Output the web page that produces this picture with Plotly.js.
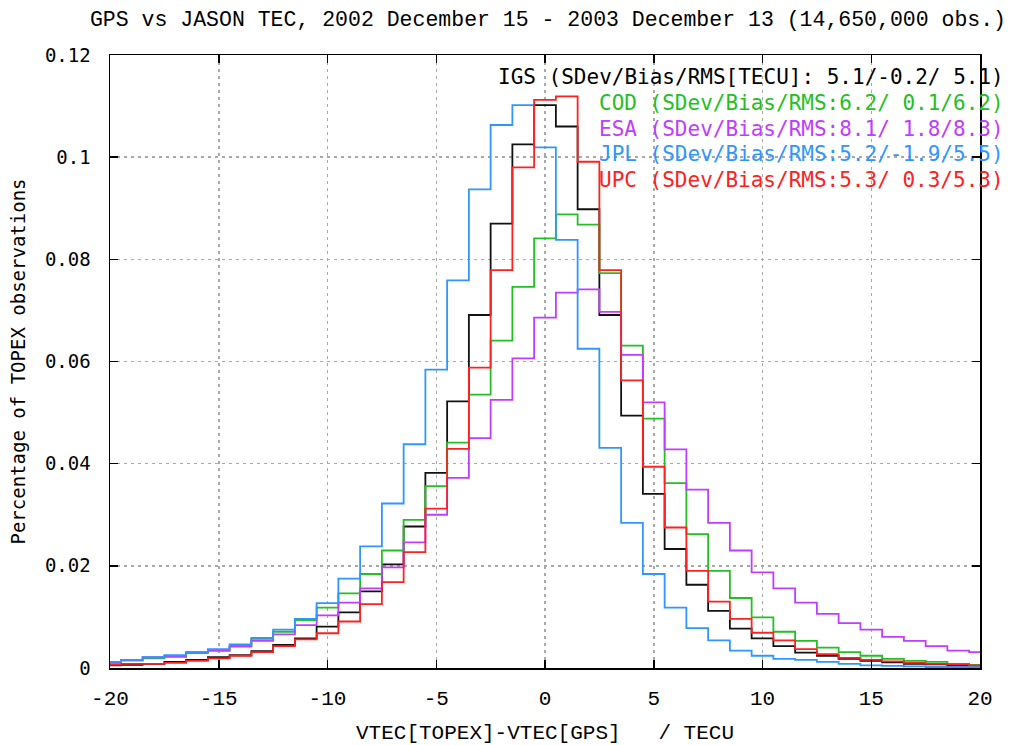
<!DOCTYPE html>
<html><head><meta charset="utf-8">
<script src="https://cdn.plot.ly/plotly-3.0.1.min.js"></script>
<style>html,body{margin:0;padding:0;background:#fff}</style>
</head><body>
<div id="chart" style="width:1017px;height:745px"></div>
<script>
// bin centres (TECU), bins of width 1
const binCenters = [-20,-19,-18,-17,-16,-15,-14,-13,-12,-11,-10,-9,-8,-7,-6,-5,-4,-3,-2,-1,0,1,2,3,4,5,6,7,8,9,10,11,12,13,14,15,16,17,18,19,20];

const igs = [0.0005,0.0006,0.0008,0.0012,0.0016,0.0021,0.0025,0.0033,0.0045,0.0058,0.0081,0.0109,0.0150,0.0203,0.0277,0.0382,0.0522,0.0691,0.0870,0.1025,0.1102,0.1060,0.0898,0.0691,0.0494,0.0341,0.0233,0.0163,0.0112,0.0077,0.0058,0.0043,0.0030,0.0024,0.0018,0.0014,0.0011,0.0008,0.0007,0.0005,0.0004];
const cod = [0.0010,0.0015,0.0019,0.0022,0.0029,0.0034,0.0044,0.0057,0.0071,0.0094,0.0118,0.0146,0.0184,0.0230,0.0290,0.0356,0.0441,0.0535,0.0641,0.0746,0.0841,0.0888,0.0868,0.0773,0.0631,0.0488,0.0362,0.0262,0.0190,0.0137,0.0099,0.0071,0.0053,0.0040,0.0031,0.0024,0.0018,0.0014,0.0012,0.0008,0.0006];
const esa = [0.0010,0.0015,0.0021,0.0023,0.0031,0.0034,0.0042,0.0053,0.0066,0.0084,0.0103,0.0128,0.0156,0.0197,0.0246,0.0300,0.0372,0.0450,0.0525,0.0606,0.0686,0.0735,0.0741,0.0697,0.0613,0.0520,0.0428,0.0349,0.0284,0.0230,0.0187,0.0156,0.0128,0.0106,0.0088,0.0075,0.0061,0.0053,0.0043,0.0034,0.0031];
const jpl = [0.0012,0.0016,0.0021,0.0025,0.0031,0.0037,0.0046,0.0059,0.0075,0.0096,0.0127,0.0175,0.0238,0.0322,0.0438,0.0584,0.0759,0.0937,0.1063,0.1102,0.1019,0.0838,0.0625,0.0431,0.0284,0.0184,0.0118,0.0078,0.0054,0.0034,0.0024,0.0018,0.0016,0.0012,0.0008,0.0005,0.0004,0.0003,0.0002,0.0002,0.0002];
const upc = [0.0006,0.0008,0.0008,0.0010,0.0014,0.0019,0.0024,0.0031,0.0043,0.0056,0.0068,0.0091,0.0125,0.0168,0.0227,0.0312,0.0429,0.0588,0.0779,0.0980,0.1112,0.1119,0.0991,0.0779,0.0563,0.0394,0.0275,0.0190,0.0130,0.0096,0.0069,0.0054,0.0037,0.0027,0.0020,0.0016,0.0013,0.0010,0.0008,0.0007,0.0005];

const seriesNames = ['IGS','COD','ESA','JPL','UPC'];
const seriesLabels = [
  'IGS (SDev/Bias/RMS[TECU]: 5.1/-0.2/ 5.1)',
  'COD (SDev/Bias/RMS:6.2/ 0.1/6.2)',
  'ESA (SDev/Bias/RMS:8.1/ 1.8/8.3)',
  'JPL (SDev/Bias/RMS:5.2/-1.9/5.5)',
  'UPC (SDev/Bias/RMS:5.3/ 0.3/5.3)'
];
const seriesValues = [igs, cod, esa, jpl, upc];
const seriesColors = ['#111111','#22c022','#c03cff','#2f96ff','#ff2020'];

const xTickVals = [-20,-15,-10,-5,0,5,10,15,20];
const yTickVals = [0,0.02,0.04,0.06,0.08,0.1,0.12];
const yTickText = ['0','0.02','0.04','0.06','0.08','0.1','0.12'];

const traces = seriesValues.map((v,i)=>({
  type:'scatter', mode:'lines', name:seriesNames[i],
  x: binCenters, y: v,
  line:{shape:'hvh', color:seriesColors[i], width:1.8},
  showlegend:false, hoverinfo:'skip'
}));

const legendY = [0.964,0.922,0.879,0.8385,0.796];
const annotations = seriesLabels.map((t,i)=>({
  xref:'paper', yref:'paper', x:1.03, y:legendY[i], xanchor:'right', yanchor:'middle',
  text:t, showarrow:false,
  font:{family:'DejaVu Sans Mono', size:21, color: i===0 ? '#000000' : seriesColors[i]}
}));

const gridStyle = {gridcolor:'#a8a8a8', gridwidth:1.5, griddash:'3px,4px'};

const layout = {
  width:1017, height:745,
  margin:{l:110, r:37, t:55, b:77},
  paper_bgcolor:'#ffffff', plot_bgcolor:'#ffffff',
  title:{text:'GPS vs JASON TEC, 2002 December 15 - 2003 December 13 (14,650,000 obs.)',
    x:548/1017, xanchor:'center', y:1-18/745, yanchor:'middle', xref:'container', yref:'container',
    font:{family:'Liberation Mono', size:21.5, color:'#000'}},
  xaxis:Object.assign({
    range:[-20,20], tickvals:xTickVals, ticktext:xTickVals.map(String),
    ticks:'inside', ticklen:8, tickwidth:1.5, tickcolor:'#000',
    showline:true, linecolor:'#000', linewidth:1.5, mirror:'ticks',
    zeroline:false, showgrid:true,
    tickfont:{family:'Liberation Mono', size:21, color:'#000'},
    ticklabelstandoff:10,
    title:{text:'VTEC[TOPEX]-VTEC[GPS]\u00a0\u00a0\u00a0/ TECU', font:{family:'Liberation Mono', size:21, color:'#000'}, standoff:22}
  }, gridStyle),
  yaxis:Object.assign({
    range:[0,0.12], tickvals:yTickVals, ticktext:yTickText,
    ticks:'inside', ticklen:8, tickwidth:1.5, tickcolor:'#000',
    showline:true, linecolor:'#000', linewidth:1.5, mirror:'ticks',
    zeroline:false, showgrid:true,
    tickfont:{family:'DejaVu Sans Mono', size:19, color:'#000'},
    ticklabelstandoff:14,
    title:{text:'Percentage of TOPEX observations', font:{family:'DejaVu Sans Mono', size:19, color:'#000'}, standoff:14}
  }, gridStyle),
  annotations: annotations
};

Plotly.newPlot('chart', traces, layout, {staticPlot:true, displayModeBar:false});
</script>
</body></html>
